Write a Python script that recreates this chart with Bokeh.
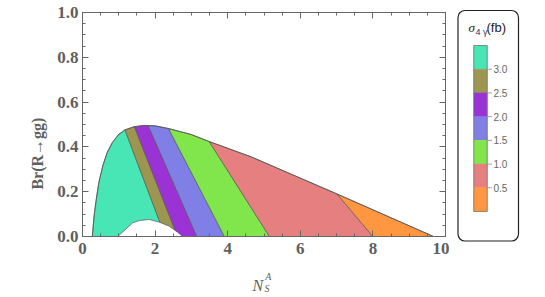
import numpy as np
from bokeh.plotting import figure
from bokeh.models import Range1d, LinearAxis, FixedTicker, Label, PrintfTickFormatter
from bokeh.layouts import row
from bokeh.embed import file_html
from bokeh.resources import INLINE
from bokeh.core.properties import value

# ---------------- data ----------------
upper_x = [0.27, 0.32, 0.38, 0.45, 0.56, 0.68, 0.82, 1.00, 1.17, 1.42, 1.69, 2.00,
           2.37, 3.00, 3.49, 4.64, 7.01, 9.67]
upper_y = [0.0, 0.093, 0.167, 0.241, 0.316, 0.375, 0.419, 0.456, 0.476, 0.490,
           0.496, 0.494, 0.482, 0.455, 0.424, 0.356, 0.190, 0.0]
hole_x = [0.97, 1.20, 1.38, 1.56, 1.84, 2.12, 2.39, 2.62, 2.76]
hole_y = [0.0, 0.034, 0.061, 0.071, 0.076, 0.064, 0.046, 0.019, 0.0]
levels = [3.0, 2.5, 2.0, 1.5, 1.0, 0.5]
contour_top_x = [1.17, 1.43, 1.81, 2.37, 3.49, 7.01]
contour_bot_x = [2.28, 2.62, 3.15, 3.91, 5.15, 8.00]
band_colors = ["#48E6B4", "#9C9650", "#9B32D6", "#7F7FE6", "#80E64C", "#E68080", "#FF9640"]
x_ticks = [0, 2, 4, 6, 8, 10]
y_ticks = [0.0, 0.2, 0.4, 0.6, 0.8, 1.0]
x_minor = [i * 0.5 for i in range(21)]
y_minor = [round(i * 0.05, 2) for i in range(21)]

GRAY = "#5f5f5f"
AX = "#666666"

p = figure(width=449, height=297, x_range=Range1d(0, 10), y_range=Range1d(0, 1),
           output_backend="svg", toolbar_location=None,
           x_axis_location=None, y_axis_location=None,
           min_border_left=82, min_border_right=4, min_border_top=12, min_border_bottom=61)
p.title.visible = False
p.xgrid.visible = False
p.ygrid.visible = False
p.outline_line_color = AX
p.background_fill_color = "white"
p.border_fill_color = "white"


def make_axis(ticks, minor, labels=True):
    ax = LinearAxis(ticker=FixedTicker(ticks=ticks, minor_ticks=minor))
    ax.axis_line_color = AX
    ax.major_tick_line_color = AX
    ax.minor_tick_line_color = AX
    ax.major_tick_in = 6
    ax.major_tick_out = 0
    ax.minor_tick_in = 3
    ax.minor_tick_out = 0
    if labels:
        ax.major_label_text_font = "Liberation Serif"
        ax.major_label_text_font_style = "bold"
        ax.major_label_text_font_size = "17px"
        ax.major_label_text_color = GRAY
    else:
        ax.major_label_text_font_size = "0px"
        ax.major_label_text_color = None
        ax.major_label_standoff = 0
    return ax


xb = make_axis(x_ticks, x_minor)
xb.major_label_standoff = 6
yl = make_axis(y_ticks, y_minor)
yl.major_label_standoff = 4
yl.formatter = PrintfTickFormatter(format="%.1f")
p.add_layout(xb, "below")
p.add_layout(yl, "left")
p.add_layout(make_axis(x_ticks, x_minor, labels=False), "above")
p.add_layout(make_axis(y_ticks, y_minor, labels=False), "right")

# ---- bands between contour lines ----
ux = np.array(upper_x)
uy = np.array(upper_y)
lefts = [(upper_x[0], upper_x[0])] + list(zip(contour_top_x, contour_bot_x))
rights = list(zip(contour_top_x, contour_bot_x)) + [(upper_x[-1], upper_x[-1])]
xs, ys = [], []
for (tl, bl), (tr, br) in zip(lefts, rights):
    mask = (ux > tl) & (ux < tr)
    xs.append([bl, tl] + [float(v) for v in ux[mask]] + [tr, br])
    ys.append([0.0, float(np.interp(tl, ux, uy))] + [float(v) for v in uy[mask]]
              + [float(np.interp(tr, ux, uy)), 0.0])

p.patches(xs, ys, fill_color=band_colors, line_color="#555555", line_width=0.7, line_alpha=0.9)
p.patch(hole_x, hole_y, fill_color="white", line_color="#555555", line_width=0.7)
p.line(upper_x, upper_y, line_color="#555555", line_width=0.8)


# ---- axis titles (side-panel labels placed with data coordinates) ----
def lab(x, y, t, size, style, angle=0.0, align="center", baseline="alphabetic"):
    return Label(x=x, y=y, text=t, angle=angle, text_align=align, text_baseline=baseline,
                 text_font="Liberation Serif", text_font_style=style,
                 text_font_size=size, text_color=GRAY)


p.add_layout(lab(-1.25, 0.37, "Br(R→gg)", "16px", "bold", angle=np.pi / 2,
                 baseline="middle"), "left")
p.add_layout(lab(4.83, -0.218, "N", "16px", "italic"), "below")
p.add_layout(lab(5.12, -0.178, "A", "10px", "italic"), "left")
p.add_layout(lab(5.08, -0.231, "S", "10px", "italic"), "left")

# ---------------- legend figure (colour bar) ----------------
PX = 47.43                     # pixels per fb on the colour bar
leg = figure(width=96, height=297, x_range=Range1d(0, 96),
             y_range=Range1d((211 - 297) / PX, 211 / PX),
             output_backend="svg", toolbar_location=None,
             x_axis_location=None, y_axis_location=None, min_border=0,
             min_border_left=0, min_border_right=0, min_border_top=0, min_border_bottom=0)
if "frame_align" in leg.properties():
    leg.frame_align = False
    p.frame_align = False
leg.title.visible = False
leg.xgrid.visible = False
leg.ygrid.visible = False
leg.outline_line_color = None
leg.background_fill_color = "white"
leg.border_fill_color = "white"

leg.quad(left=8.5, right=69, bottom=-0.622, top=4.238, fill_color="white",
         line_color="#222222", line_width=1.2, border_radius=7)

seg_bottom = [3.0, 2.5, 2.0, 1.5, 1.0, 0.5, 0.0]
seg_top = [3.5, 3.0, 2.5, 2.0, 1.5, 1.0, 0.5]
leg.quad(left=24.3, right=37.7, bottom=seg_bottom, top=seg_top, fill_color=band_colors,
         line_color=band_colors, line_width=0.5)
leg.quad(left=24.3, right=37.7, bottom=0.0, top=3.5, fill_color=None,
         line_color="#777777", line_width=0.8)
leg.segment(x0=37.7, x1=42.5, y0=levels, y1=levels, line_color="#888888", line_width=0.8)
leg.text(x=44, y=levels, text=[f"{v:.1f}" for v in levels], text_baseline="middle",
         text_align="left", text_font=value("Liberation Sans"), text_font_size="10px",
         text_color="#666666")
# title sigma_{4 gamma}(fb)
leg.text(x=[19.0], y=[3.87], text=["σ"], text_baseline="middle", text_align="left",
         text_font=value("Liberation Serif"), text_font_style="italic",
         text_font_size="13px", text_color="#222222")
leg.text(x=[26.0], y=[3.78], text=["4 γ"], text_baseline="middle", text_align="left",
         text_font=value("Liberation Sans"), text_font_size="9px", text_color="#333366")
leg.text(x=[37.0], y=[3.88], text=["(fb)"], text_baseline="middle", text_align="left",
         text_font=value("Liberation Sans"), text_font_size="13px", text_color="#222222")

layout = row(p, leg)
open("out.html", "w").write(file_html(layout, INLINE))
